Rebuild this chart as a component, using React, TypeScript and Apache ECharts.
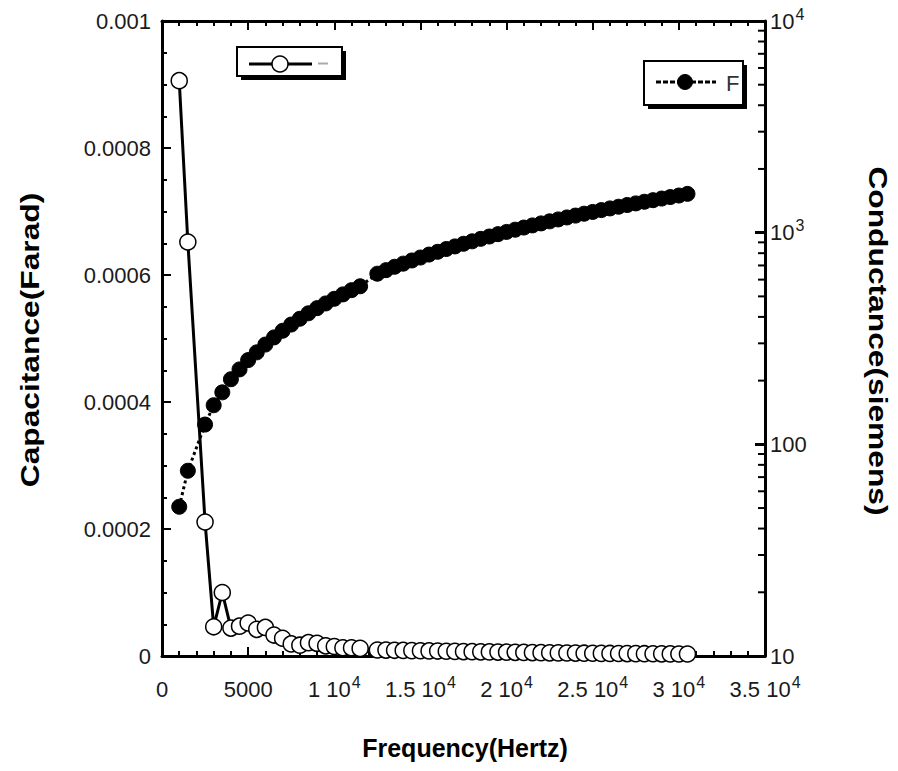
import React, { useEffect, useRef } from "react";
import * as echarts from "echarts";

// ---------- data ----------
const frequency = [
  1000, 1500, 2500, 3000, 3500, 4000, 4500, 5000, 5500, 6000, 6500, 7000, 7500, 8000,
  8500, 9000, 9500, 10000, 10500, 11000, 11500,
  12500, 13000, 13500, 14000, 14500, 15000, 15500, 16000, 16500, 17000, 17500, 18000,
  18500, 19000, 19500, 20000, 20500, 21000, 21500, 22000, 22500, 23000, 23500, 24000,
  24500, 25000, 25500, 26000, 26500, 27000, 27500, 28000, 28500, 29000, 29500, 30000, 30500,
];

const capacitance = [
  0.000906, 0.000652, 0.000211, 0.000046, 0.0001, 0.000044, 0.000047, 0.000052, 0.000042,
  0.000045, 0.000033, 0.000028, 0.000019, 0.000017, 0.000021, 0.00002, 0.000016, 0.000015,
  0.000013, 0.000013, 0.000012,
  0.0000095, 0.0000093, 0.000009, 0.0000088, 0.0000085, 0.0000083, 0.000008, 0.0000078,
  0.0000075, 0.0000073, 0.000007, 0.0000068, 0.0000066, 0.0000064, 0.0000062, 0.000006,
  0.0000058, 0.0000056, 0.0000054, 0.0000052, 0.000005, 0.0000049, 0.0000047, 0.0000046,
  0.0000044, 0.0000043, 0.0000041, 0.000004, 0.0000039, 0.0000038, 0.0000037, 0.0000036,
  0.0000035, 0.0000034, 0.0000033, 0.0000032, 0.0000031,
];

const conductance = [
  50.7, 75, 124, 153, 176, 203, 226, 250, 272, 296, 320, 344, 368, 392, 416, 440, 463, 487,
  511, 535, 558,
  640, 665, 690, 714, 739, 763, 788, 812, 837, 861, 886, 910, 935, 959, 984, 1008, 1033,
  1057, 1082, 1106, 1131, 1155, 1180, 1204, 1229, 1253, 1278, 1302, 1326, 1351, 1375, 1400,
  1424, 1449, 1473, 1498, 1525,
];

const xTickValues = [0, 5000, 10000, 15000, 20000, 25000, 30000, 35000];
const xTickBase = ["0", "5000", "1 10", "1.5 10", "2 10", "2.5 10", "3 10", "3.5 10"];
const xTickExp = ["", "", "4", "4", "4", "4", "4", "4"];

const leftTickLabels = ["0", "0.0002", "0.0004", "0.0006", "0.0008", "0.001"];

const logTickValues = [10, 100, 1000, 10000];
const logTickBase = ["10", "100", "10", "10"];
const logTickExp = ["", "", "3", "4"];
const logMinorTicks = [
  20, 30, 40, 50, 60, 70, 80, 90, 200, 300, 400, 500, 600, 700, 800, 900, 2000, 3000, 4000,
  5000, 6000, 7000, 8000, 9000,
];

const FONT = '"Liberation Sans", Arial, Helvetica, sans-serif';
const LABEL_COLOR = "#1a1a1a";

export default function App() {
  const ref = useRef<HTMLDivElement | null>(null);

  useEffect(() => {
    document.body.style.margin = "0";
    if (!ref.current) return;
    const chart = echarts.init(ref.current, undefined, { renderer: "svg" });

    const rich = {
      b: { fontSize: 22, fontFamily: FONT, color: LABEL_COLOR, lineHeight: 30 },
      s: { fontSize: 16, fontFamily: FONT, color: LABEL_COLOR, padding: [0, 0, 14, 1] },
    };

    const xLabel = (v: number) => {
      const i = xTickValues.indexOf(Math.round(v));
      if (i < 0) return "";
      return xTickExp[i] ? `{b|${xTickBase[i]}}{s|${xTickExp[i]}}` : `{b|${xTickBase[i]}}`;
    };
    const logLabel = (v: number) => {
      const i = logTickValues.findIndex((t) => Math.abs(t - v) / t < 1e-6);
      if (i < 0) return "";
      return logTickExp[i] ? `{b|${logTickBase[i]}}{s|${logTickExp[i]}}` : `{b|${logTickBase[i]}}`;
    };

    const axisLine = { show: true, onZero: false, lineStyle: { color: "#000", width: 3 } };

    const option: any = {
      animation: false,
      backgroundColor: "#fff",
      grid: { left: 162, top: 21, width: 603, height: 635, containLabel: false },
      xAxis: [
        {
          type: "value",
          position: "bottom",
          min: 0,
          max: 35000,
          interval: 5000,
          axisLine,
          axisTick: { show: true, inside: true, length: 9, lineStyle: { color: "#000", width: 2 } },
          minorTick: { show: true, splitNumber: 5, length: 5, lineStyle: { color: "#000", width: 2 } },
          splitLine: { show: false },
          axisLabel: { margin: 18, formatter: xLabel, rich, color: LABEL_COLOR },
        },
        {
          type: "value",
          position: "top",
          min: 0,
          max: 35000,
          interval: 5000,
          axisLine,
          axisTick: { show: true, inside: true, length: 9, lineStyle: { color: "#000", width: 2 } },
          minorTick: { show: true, splitNumber: 5, length: 5, lineStyle: { color: "#000", width: 2 } },
          splitLine: { show: false },
          axisLabel: { show: false },
        },
      ],
      yAxis: [
        {
          type: "value",
          position: "left",
          min: 0,
          max: 0.001,
          interval: 0.0002,
          axisLine,
          axisTick: { show: true, inside: true, length: 9, lineStyle: { color: "#000", width: 2 } },
          minorTick: { show: true, splitNumber: 4, length: 5, lineStyle: { color: "#000", width: 2 } },
          splitLine: { show: false },
          axisLabel: {
            margin: 11,
            fontSize: 22,
            fontFamily: FONT,
            color: LABEL_COLOR,
            formatter: (v: number) => leftTickLabels[Math.round(v / 0.0002)] ?? "",
          },
        },
        {
          type: "log",
          logBase: 10,
          position: "right",
          min: 10,
          max: 10000,
          axisLine,
          axisTick: { show: true, inside: true, length: 10, lineStyle: { color: "#000", width: 3 } },
          splitLine: { show: false },
          axisLabel: { margin: 5, formatter: logLabel, rich, color: LABEL_COLOR },
        },
      ],
      graphic: [
        // axis titles
        {
          type: "text",
          x: 30,
          y: 340,
          rotation: Math.PI / 2,
          scaleX: 1.27,
          style: {
            text: "Capacitance(Farad)",
            font: `bold 25px ${FONT}`,
            fill: "#000",
            textAlign: "center",
            textVerticalAlign: "middle",
          },
        },
        {
          type: "text",
          x: 878,
          y: 341,
          rotation: -Math.PI / 2,
          scaleX: 1.27,
          style: {
            text: "Conductance(siemens)",
            font: `bold 25px ${FONT}`,
            fill: "#000",
            textAlign: "center",
            textVerticalAlign: "middle",
          },
        },
        {
          type: "text",
          x: 465,
          y: 748,
          style: {
            text: "Frequency(Hertz)",
            font: `bold 25px ${FONT}`,
            fill: "#000",
            textAlign: "center",
            textVerticalAlign: "middle",
          },
        },
        // legend box 1
        { type: "rect", shape: { x: 241, y: 51, width: 105, height: 29 }, style: { fill: "#000" }, z: 10 },
        {
          type: "rect",
          shape: { x: 237, y: 47, width: 105, height: 29 },
          style: { fill: "#fff", stroke: "#000", lineWidth: 2 },
          z: 11,
        },
        {
          type: "line",
          shape: { x1: 249, y1: 64, x2: 312, y2: 64 },
          style: { stroke: "#000", lineWidth: 3 },
          z: 12,
        },
        {
          type: "circle",
          shape: { cx: 280, cy: 64, r: 8 },
          style: { fill: "#fff", stroke: "#000", lineWidth: 1.5 },
          z: 13,
        },
        { type: "rect", shape: { x: 318, y: 62.5, width: 10, height: 2 }, style: { fill: "#aaa" }, z: 12 },
        // legend box 2
        { type: "rect", shape: { x: 648, y: 65, width: 99, height: 44 }, style: { fill: "#000" }, z: 10 },
        {
          type: "rect",
          shape: { x: 644, y: 61, width: 99, height: 44 },
          style: { fill: "#fff", stroke: "#000", lineWidth: 2 },
          z: 11,
        },
        {
          type: "line",
          shape: { x1: 656, y1: 82, x2: 716, y2: 82 },
          style: { stroke: "#000", lineWidth: 3, lineDash: [5, 2] },
          z: 12,
        },
        {
          type: "circle",
          shape: { cx: 685, cy: 82, r: 7.5 },
          style: { fill: "#000", stroke: "#000", lineWidth: 1 },
          z: 13,
        },
        {
          type: "text",
          x: 726,
          y: 83,
          style: {
            text: "F",
            font: `22px ${FONT}`,
            fill: "#333",
            textAlign: "left",
            textVerticalAlign: "middle",
          },
          z: 13,
        },
      ],
      series: [
        {
          name: "G",
          type: "line",
          xAxisIndex: 0,
          yAxisIndex: 1,
          data: frequency.map((f, i) => [f, conductance[i]]),
          symbol: "circle",
          symbolSize: 15,
          showSymbol: true,
          showAllSymbol: true,
          itemStyle: { color: "#000", borderColor: "#000", borderWidth: 1 },
          lineStyle: { color: "#000", width: 3, type: [3, 3] },
          z: 2,
        },
        {
          name: "C",
          type: "line",
          xAxisIndex: 0,
          yAxisIndex: 0,
          data: frequency.map((f, i) => [f, capacitance[i]]),
          symbol: "circle",
          symbolSize: 16,
          showSymbol: true,
          showAllSymbol: true,
          itemStyle: { color: "#fff", borderColor: "#000", borderWidth: 1.5 },
          lineStyle: { color: "#000", width: 3 },
          z: 3,
        },
        {
          type: "custom",
          xAxisIndex: 0,
          yAxisIndex: 1,
          silent: true,
          clip: false,
          z: 5,
          data: logMinorTicks.map((v) => [35000, v]),
          renderItem: (_params: any, api: any) => {
            const p = api.coord([api.value(0), api.value(1)]);
            return {
              type: "line",
              shape: { x1: p[0], y1: p[1], x2: p[0] - 7, y2: p[1] },
              style: { stroke: "#000", lineWidth: 2 },
            };
          },
        },
      ],
    };

    chart.setOption(option);
    return () => chart.dispose();
  }, []);

  return <div ref={ref} style={{ width: 898, height: 771 }} />;
}
